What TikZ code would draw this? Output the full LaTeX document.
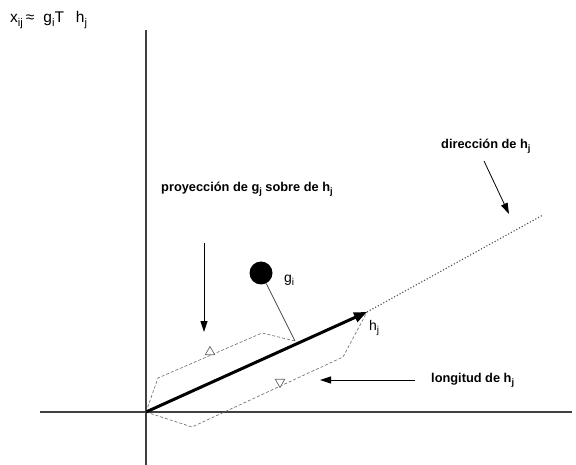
\documentclass[tikz,border=0pt]{standalone}
\usepackage{fontspec}
\setmainfont{Liberation Sans}
\usetikzlibrary{arrows.meta,shapes.geometric}
\newcommand{\lowsub}[1]{\raisebox{-0.45ex}{\scalebox{0.72}{#1}}}
\begin{document}
\begin{tikzpicture}[x=1pt, y=-1pt, >={Triangle[length=11pt,width=7pt]},
    lbl/.style={font=\bfseries\fontsize{12.8}{15}\selectfont, inner sep=1pt},
    vlbl/.style={font=\fontsize{14}{16}\selectfont, inner sep=1pt},
    guide/.style={gray!80!black, dashed, dash pattern=on 3pt off 2pt, line width=0.6pt}]
    \useasboundingbox (0,0) rectangle (576,465);

    % axes
    \coordinate (O) at (146,412);
    \coordinate (ytop) at (146,30);
    \coordinate (ybot) at (146,465);
    \coordinate (xl) at (40,412);
    \coordinate (xr) at (572,412);
    \draw[line width=1.1pt, black!75] (ybot) -- (ytop);
    \draw[line width=1.1pt, black!75] (xl) -- (xr);

    \node[vlbl, font=\fontsize{15.5}{17}\selectfont, anchor=base west] (eq) at (9,23)
        {x\lowsub{ij}\kern3pt≈\kern9pt g\lowsub{i}T\kern12pt h\lowsub{j}};

    % vector h_j and its direction
    \coordinate (hj) at (367,312);
    \coordinate (dend) at (543,215);
    \draw[black!70, dotted, line width=1.1pt] (hj) -- (dend);

    % dashed outlines round the vector
    \coordinate (P) at (295,341);
    \draw[guide] (O) -- (158,378) -- (262,333) -- (P);
    \draw[guide] (O) -- (192,427) -- (343,357) -- (hj);
    \node[regular polygon, regular polygon sides=3, draw=gray!80!black, fill=white,
        line width=0.7pt, inner sep=0pt, minimum size=11pt] (tup) at (210,352) {};
    \node[regular polygon, regular polygon sides=3, draw=gray!80!black, fill=white,
        line width=0.7pt, inner sep=0pt, minimum size=11pt, rotate=180] (tdn) at (280,382) {};

    \draw[line width=3pt, -{Triangle[length=13pt,width=10pt]}] (O) -- (hj);
    \node[vlbl, anchor=west] (hjl) at (368,328) {h\lowsub{j}};

    % g_i and its projection
    \node[circle, fill=black, minimum size=23pt, inner sep=0pt] (gi) at (261,273) {};
    \node[vlbl, anchor=west] (gil) at (283,280) {g\lowsub{i}};
    \draw[black!70, line width=0.8pt] (gi) -- (P);

    % labels
    \node[lbl, anchor=west] (proy) at (160,189)
        {proyección de g\lowsub{j} sobre de h\lowsub{j}};
    \coordinate (pa) at (204,243);
    \coordinate (pb) at (204,332);
    \draw[->, line width=0.8pt] (pa) -- (pb);

    \node[lbl, anchor=west] (dir) at (440,146) {dirección de h\lowsub{j}};
    \coordinate (da) at (484,161);
    \coordinate (db) at (509,214);
    \draw[->, line width=0.8pt] (da) -- (db);

    \node[lbl, anchor=west] (lon) at (430,380) {longitud de h\lowsub{j}};
    \draw[->, line width=0.8pt] (lon.west) ++(-15,0) coordinate (la) -- (320,380);
\end{tikzpicture}
\end{document}
